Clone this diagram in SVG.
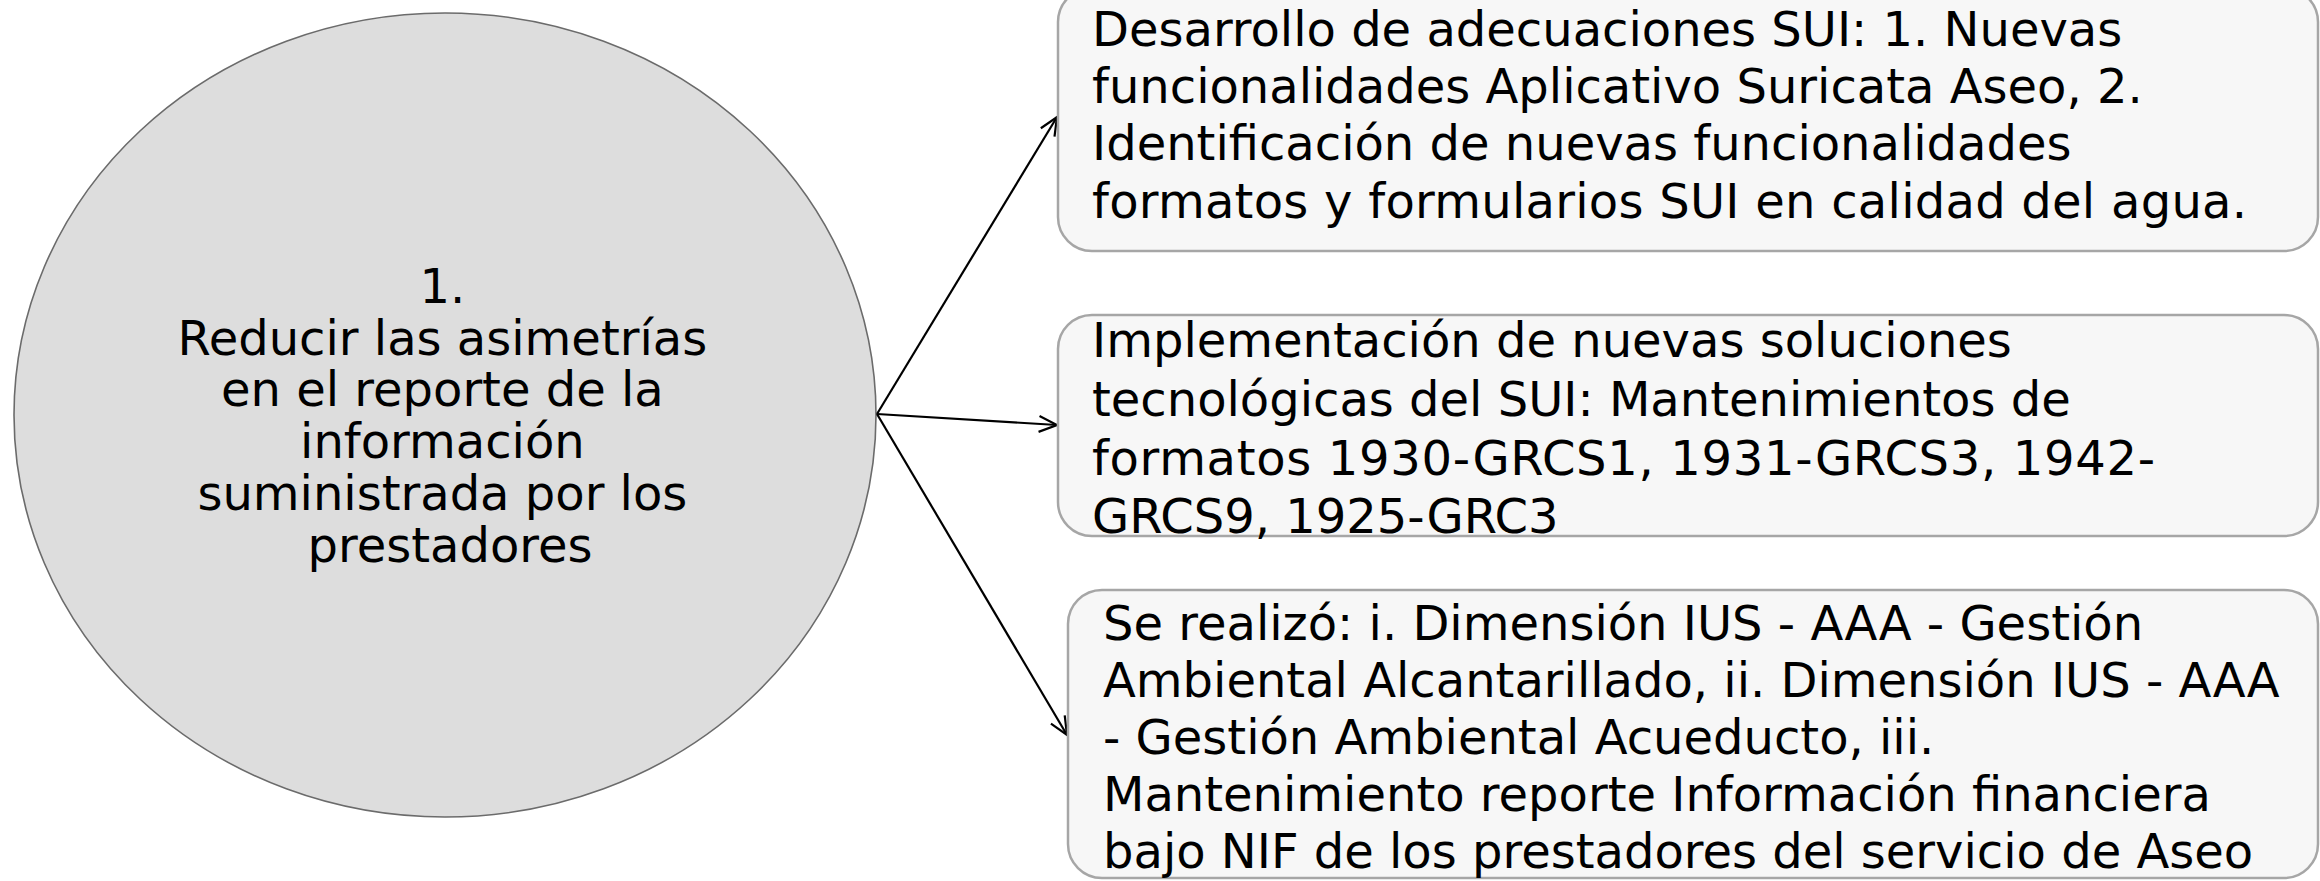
<svg xmlns="http://www.w3.org/2000/svg" width="2320" height="881" viewBox="0 0 2320 881">
<style>
.t{font-family:"DejaVu Sans","Verdana",sans-serif;font-size:48px;fill:#000}
.box{fill:#f7f7f7;stroke:#a6a6a6;stroke-width:2.5}
.conn{stroke:#000;stroke-width:2.2;fill:none}
</style>
<defs>
<marker id="arr" markerUnits="userSpaceOnUse" markerWidth="24" markerHeight="24" refX="20" refY="10" orient="auto" viewBox="0 0 24 20" overflow="visible">
<path d="M2,2 L20,10 L2,18" fill="none" stroke="#000" stroke-width="2.2"/>
</marker>
</defs>
<rect width="2320" height="881" fill="#fff"/>
<g id="node-center">
<ellipse cx="445" cy="415" rx="431" ry="402" fill="#dddddd" stroke="#6b6b6b" stroke-width="1.6"/>
<text class="t" text-anchor="middle">
<tspan x="450" y="303">1.</tspan>
<tspan x="450" y="355">Reducir las asimetrías</tspan>
<tspan x="450" y="406">en el reporte de la</tspan>
<tspan x="450" y="458">información</tspan>
<tspan x="450" y="510">suministrada por los</tspan>
<tspan x="450" y="562">prestadores</tspan>
</text>
</g>
<g id="connectors">
<line class="conn" x1="877" y1="414" x2="1057" y2="117" marker-end="url(#arr)"/>
<line class="conn" x1="877" y1="414" x2="1057" y2="425" marker-end="url(#arr)"/>
<line class="conn" x1="877" y1="414" x2="1067" y2="735" marker-end="url(#arr)"/>
</g>
<g id="node-1">
<rect class="box" x="1058" y="-12" width="1260" height="263" rx="34" ry="34"/>
<text class="t">
<tspan x="1092" y="46">Desarrollo de adecuaciones SUI: 1. Nuevas</tspan>
<tspan x="1092" y="103">funcionalidades Aplicativo Suricata Aseo, 2.</tspan>
<tspan x="1092" y="160">Identificación de nuevas funcionalidades</tspan>
</text>
<text class="t" x="1092" y="218" textLength="1155" lengthAdjust="spacing">formatos y formularios SUI en calidad del agua.</text>
</g>
<g id="node-2">
<rect class="box" x="1058" y="315" width="1260" height="221" rx="34" ry="34"/>
<text class="t">
<tspan x="1092" y="357">Implementación de nuevas soluciones</tspan>
<tspan x="1092" y="416">tecnológicas del SUI: Mantenimientos de</tspan>
</text>
<text class="t" x="1092" y="475" textLength="1063" lengthAdjust="spacing">formatos 1930-GRCS1, 1931-GRCS3, 1942-</text>
<text class="t" x="1092" y="533">GRCS9, 1925-GRC3</text>
</g>
<g id="node-3">
<rect class="box" x="1068" y="590" width="1250" height="288" rx="34" ry="34"/>
<text class="t">
<tspan x="1103" y="640">Se realizó: i. Dimensión IUS - AAA - Gestión</tspan>
<tspan x="1103" y="697">Ambiental Alcantarillado, ii. Dimensión IUS - AAA</tspan>
<tspan x="1103" y="754">- Gestión Ambiental Acueducto, iii.</tspan>
<tspan x="1103" y="811">Mantenimiento reporte Información financiera</tspan>
<tspan x="1103" y="868">bajo NIF de los prestadores del servicio de Aseo</tspan>
</text>
</g>
</svg>
